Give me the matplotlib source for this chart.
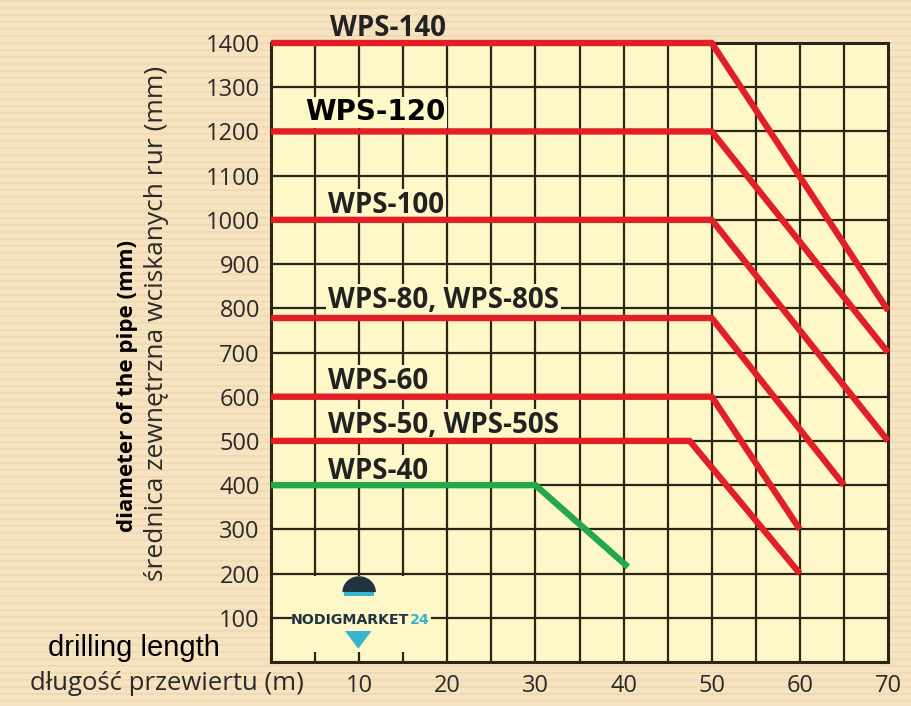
import numpy as np
import matplotlib
matplotlib.use('Agg')
import matplotlib.pyplot as plt
from matplotlib.patches import Rectangle, Polygon

# ---------------------------------------------------------------
# Data (drilling length in m, diameter in mm)
# ---------------------------------------------------------------
wps140_x = [0, 50, 70]
wps140_y = [1400, 1400, 795]
wps120_x = [0, 50, 70]
wps120_y = [1200, 1200, 700]
wps100_x = [0, 50, 70]
wps100_y = [1000, 1000, 500]
wps80_x = [0, 50, 65]
wps80_y = [778, 778, 400]
wps60_x = [0, 50, 60]
wps60_y = [600, 600, 300]
wps50_x = [0, 47.5, 60]
wps50_y = [500, 500, 200]
wps40_x = [0, 30, 40.5]
wps40_y = [400, 400, 215]

x_ticks = [10, 20, 30, 40, 50, 60, 70]
y_ticks = [100, 200, 300, 400, 500, 600, 700, 800, 900, 1000, 1100, 1200, 1300, 1400]

# label text, x start, baseline y
labels = ['WPS-140', 'WPS-100', 'WPS-80, WPS-80S', 'WPS-60', 'WPS-50, WPS-50S', 'WPS-40']
label_x = [6.7, 6.5, 6.5, 6.5, 6.5, 6.5]
label_y = [1415, 1015, 800, 617, 518, 414]

RED = '#e11f27'
GREEN = '#23a84b'
BG = '#f5e1bd'
PLOT_BG = '#fef7c8'
GRID = '#2b2418'
TXT = '#2a2a2a'

fig = plt.figure(figsize=(9.11, 7.06), dpi=100)
fig.patch.set_facecolor(BG)

# faint striped paper texture in the background
bg_ax = fig.add_axes([0, 0, 1, 1], zorder=-5)
rows = np.arange(706)
stripes = np.where(rows % 7 < 2, 0.0, 1.0)[:, None] * np.ones((1, 911))
bg_ax.imshow(stripes, cmap=matplotlib.colors.LinearSegmentedColormap.from_list(
    'paper', ['#f0dab1', '#f6e3c2']), aspect='auto', interpolation='nearest')
bg_ax.axis('off')

ax = fig.add_axes([271/911, 44/706, 617/911, 619/706])
ax.set_facecolor(PLOT_BG)
ax.set_xlim(0, 70)
ax.set_ylim(0, 1400)

# grid every 5 m / 100 mm
for gx in np.arange(5, 70, 5):
    ax.axvline(gx, color=GRID, lw=1.6, zorder=1)
for gy in np.arange(100, 1400, 100):
    ax.axhline(gy, color=GRID, lw=1.6, zorder=1)
for s in ax.spines.values():
    s.set_color(GRID)
    s.set_linewidth(2.2)

ax.set_xticks(x_ticks)
ax.set_yticks(y_ticks)
ax.tick_params(length=0, labelsize=17, colors=TXT, pad=8)
ax.tick_params(axis='x', pad=9)
for t in ax.get_xticklabels() + ax.get_yticklabels():
    t.set_fontfamily('Open Sans')

# lines
lw = 4.6
for xs, ys in [(wps140_x, wps140_y), (wps120_x, wps120_y), (wps100_x, wps100_y),
               (wps80_x, wps80_y), (wps60_x, wps60_y), (wps50_x, wps50_y)]:
    ax.plot(xs, ys, color=RED, lw=lw, solid_capstyle='butt', zorder=4, clip_on=False)
ax.plot(wps40_x, wps40_y, color=GREEN, lw=lw, solid_capstyle='butt', zorder=4, clip_on=False)

# series labels
for i, txt in enumerate(labels):
    bb = None if i == 0 else dict(facecolor=PLOT_BG, edgecolor='none', pad=1.5)
    ax.text(label_x[i], label_y[i], txt, fontsize=20, fontweight='bold',
            fontfamily='Open Sans', color='#222222', ha='left', va='baseline',
            bbox=bb, zorder=3, clip_on=False)
ax.text(3.9, 1225, 'WPS-120', fontsize=20, fontweight='bold', fontfamily='DejaVu Sans',
        color='black', ha='left', va='baseline', zorder=3,
        bbox=dict(facecolor=PLOT_BG, edgecolor='none', pad=1))

# logo (simple helmet + drill tip + wordmark)
ax.add_patch(Rectangle((2.4, 22), 15.8, 172, facecolor=PLOT_BG, edgecolor='none', zorder=2))
th = np.linspace(0, np.pi, 30)
ax.add_patch(Polygon(np.column_stack([10 + 1.9 * np.cos(th), 158 + 36 * np.sin(th)]),
                     closed=True, facecolor='#1f3340', edgecolor='none', zorder=3))
ax.add_patch(Polygon([[8.3, 150], [11.7, 150], [11.7, 158], [8.3, 158]],
                     closed=True, facecolor='#36b5cf', edgecolor='none', zorder=3))
ax.add_patch(Polygon([[8.4, 70], [11.4, 70], [9.9, 30]],
                     closed=True, facecolor='#36b5cf', edgecolor='none', zorder=3))
ax.text(8.9, 96, 'NODIGMARKET', fontsize=10.2, fontweight='bold', fontfamily='DejaVu Sans',
        color='#1f3340', ha='center', va='center', zorder=4)
ax.text(15.7, 96, '24', fontsize=10.2, fontweight='bold', fontfamily='DejaVu Sans',
        color='#36b5cf', ha='left', va='center', zorder=4)

# axis titles
fig.text(127/911, 1 - 386/706, 'diameter of the pipe (mm)', rotation=90,
         fontsize=16, fontweight='bold', fontfamily='Open Sans', color='black',
         ha='center', va='center')
fig.text(157/911, 1 - 323/706, 'średnica zewnętrzna wciskanych rur (mm)', rotation=90,
         fontsize=19, fontfamily='Open Sans', color=TXT, ha='center', va='center')
fig.text(48/911, 1 - 648/706, 'drilling length', fontsize=21,
         fontfamily='Liberation Sans', color='black', ha='left', va='center')
fig.text(30/911, 1 - 684/706, 'długość przewiertu (m)', fontsize=18.5,
         fontfamily='Open Sans', color=TXT, ha='left', va='center')

fig.savefig('out.png', dpi=100, facecolor=BG)
